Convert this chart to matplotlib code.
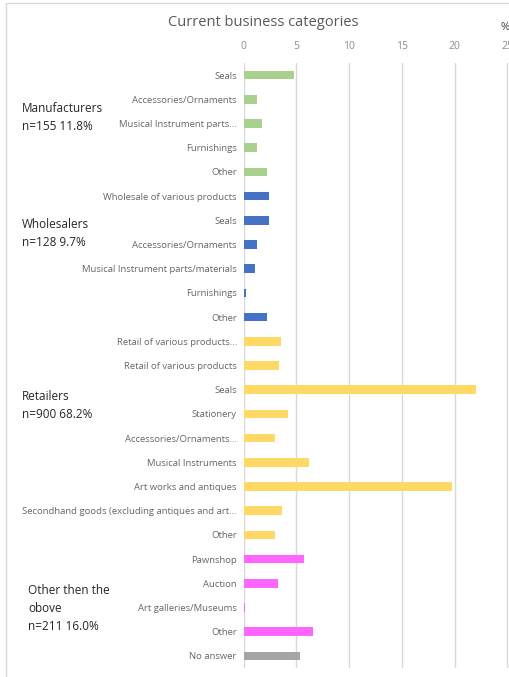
import matplotlib
matplotlib.use("Agg")
import matplotlib.pyplot as plt
from matplotlib.patches import Rectangle
import numpy as np

plt.rcParams['font.family'] = ['Open Sans', 'DejaVu Sans']

# business categories, top to bottom
labels = [
    "Seals", "Accessories/Ornaments", "Musical Instrument parts...", "Furnishings", "Other",
    "Wholesale of various products", "Seals", "Accessories/Ornaments",
    "Musical Instrument parts/materials", "Furnishings", "Other",
    "Retail of various products...", "Retail of various products", "Seals", "Stationery",
    "Accessories/Ornaments...", "Musical Instruments", "Art works and antiques",
    "Secondhand goods (excluding antiques and art...", "Other",
    "Pawnshop", "Auction", "Art galleries/Museums", "Other",
    "No answer",
]
manufacturers = [4.8, 1.3, 1.7, 1.3, 2.2]
wholesalers = [2.4, 2.4, 1.3, 1.1, 0.25, 2.2]
retailers = [3.5, 3.3, 22.0, 4.2, 3.0, 6.2, 19.7, 3.6, 3.0]
other_groups = [5.7, 3.25, 0.15, 6.6]
no_answer = [5.3]

group_names = [
    "Manufacturers\nn=155 11.8%",
    "Wholesalers\nn=128 9.7%",
    "Retailers\nn=900 68.2%",
    "Other then the\nobove\nn=211 16.0%",
]
series = [manufacturers, wholesalers, retailers, other_groups, no_answer]
series_colors = ["#a9d18e", "#4472c4", "#ffd966", "#ff66ff", "#a5a5a5"]

W, H = 510, 677
fig = plt.figure(figsize=(W / 100, H / 100), dpi=100)

# outer chart frame
fig.patches.append(Rectangle((6 / W, -0.1), 1.2, (H - 3) / H + 0.1, transform=fig.transFigure,
                             fill=False, edgecolor="#d9d9d9", linewidth=1))

ax = fig.add_axes([243.7 / W, 1 - 668 / H, (W - 243.7) / W, (668 - 63) / H])

values = []
colors = []
for vals, col in zip(series, series_colors):
    values += vals
    colors += [col] * len(vals)
y = np.arange(len(values))
ax.barh(y, values, height=0.36, color=colors, zorder=3)

ax.set_ylim(len(values) - 0.5, -0.5)
ax.set_xlim(0, 25.24)
ax.set_xticks(np.arange(0, 26, 5))
ax.xaxis.tick_top()
ax.tick_params(axis='x', length=0, pad=8, labelsize=7.5, labelcolor="#8c8c8c")
ax.set_yticks(y)
ax.set_yticklabels(labels)
ax.tick_params(axis='y', length=0, pad=5, labelsize=6.8, labelcolor="#666666")
for s in ax.spines.values():
    s.set_visible(False)
ax.grid(axis='x', color="#d9d9d9", linewidth=1, zorder=0)
ax.set_facecolor("none")

# group captions on the left
caption_pos = [(22, 118), (22, 234), (22, 405), (28, 609)]
for name, (px, py) in zip(group_names, caption_pos):
    fig.text(px / W, 1 - py / H, name, fontsize=8.5, color="#262626", va="center", linespacing=1.5)

fig.text(263 / W, 1 - 23 / H, "Current business categories", fontsize=10.5, color="#595959",
         ha="center", va="center")
fig.text(505 / W, 1 - 28 / H, "%", fontsize=8, color="#404040", ha="center", va="center")

fig.savefig("out.png", dpi=100)
